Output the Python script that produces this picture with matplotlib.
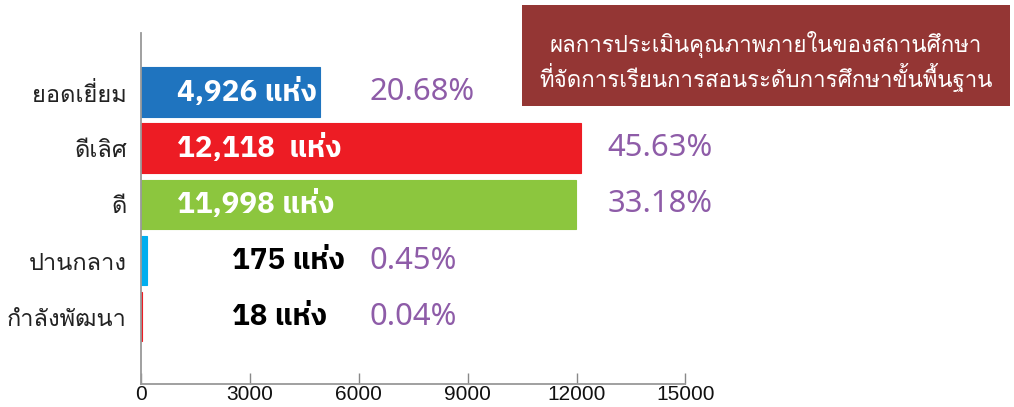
import matplotlib
matplotlib.use('Agg')
import matplotlib.pyplot as plt
from matplotlib.patches import Rectangle

plt.rcParams['font.family'] = ['Noto Sans Thai', 'DejaVu Sans']

# ข้อมูล
categories = ['ยอดเยี่ยม', 'ดีเลิศ', 'ดี', 'ปานกลาง', 'กำลังพัฒนา']
counts = [4926, 12118, 11998, 175, 18]
bar_labels = ['4,926 แห่ง', '12,118  แห่ง', '11,998 แห่ง', '175 แห่ง', '18 แห่ง']
percents = ['20.68%', '45.63%', '33.18%', '0.45%', '0.04%']
colors = ['#1f74bf', '#ed1c24', '#8cc63e', '#00aeef', '#ed1c24']
xticks = [0, 3000, 6000, 9000, 12000, 15000]
title_lines = ['ผลการประเมินคุณภาพภายในของสถานศึกษา',
               'ที่จัดการเรียนการสอนระดับการศึกษาขั้นพื้นฐาน']

thai_loop = ['Loma', 'Noto Sans Thai', 'DejaVu Sans']
thai_bold = ['IBM Plex Sans Thai', 'Noto Sans Thai', 'DejaVu Sans']

fig = plt.figure(figsize=(10.14, 4.07), dpi=100)
ax = fig.add_axes([0.139, 0.057, 0.537, 0.862])

y = list(range(len(categories)))
ax.barh(y, counts, height=0.89, color=colors, edgecolor=colors, linewidth=0.8)

inside, pcts = [], []
for i, c in enumerate(counts):
    if c > 3000:
        t = ax.text(1000, i, bar_labels[i], color='white', fontsize=20, fontweight='bold',
                    family=thai_bold, va='center', ha='left')
    else:
        t = ax.text(2500, i, bar_labels[i], color='black', fontsize=20, fontweight='bold',
                    family=thai_bold, va='center', ha='left')
    inside.append(t)
    px = 12850 if c > 10000 else 6300
    pcts.append(ax.text(px, i, percents[i], color='#8e5ca8', fontsize=20,
                        va='center', ha='left'))

ax.set_xlim(0, 15000)
ax.set_ylim(5.2, -1.06)
ax.set_yticks(y)
ax.set_yticklabels(categories, fontsize=19, color='#222222', family=thai_loop)
ax.set_xticks(xticks)
ax.set_xticklabels([str(t) for t in xticks], fontsize=15, color='#111111',
                   family=['Liberation Sans Narrow', 'Liberation Sans', 'DejaVu Sans'])
ax.tick_params(axis='y', length=0, pad=10)
ax.tick_params(axis='x', direction='in', length=8, width=1, color='#888888', pad=1)
for s in ['top', 'right']:
    ax.spines[s].set_visible(False)
for s in ['left', 'bottom']:
    ax.spines[s].set_color('#999999')
    ax.spines[s].set_linewidth(1.3)

# กล่องหัวเรื่อง
fig.patches.append(Rectangle((522 / 1014, 1 - 106 / 407), 488 / 1014, 101 / 407,
                             transform=fig.transFigure, facecolor='#943634',
                             edgecolor='none'))
tt = [fig.text(766 / 1014, 1 - yy / 407, s, color='white', fontsize=16,
               family=thai_loop, ha='center', va='center')
      for s, yy in zip(title_lines, [44, 78])]


# ปรับขนาดตัวอักษรให้ความกว้างตรงกับภาพต้นฉบับ
def fit(texts, ref, target):
    fig.canvas.draw()
    r = fig.canvas.get_renderer()
    w = ref.get_window_extent(r).width
    k = target / w
    for t in texts:
        t.set_fontsize(t.get_fontsize() * k)


fit(list(ax.get_yticklabels()), ax.get_yticklabels()[4], 120)
fit(inside, inside[0], 140)
fit(pcts, pcts[0], 105)
fit(tt, tt[0], 433)

fig.savefig('out.png', dpi=100)
